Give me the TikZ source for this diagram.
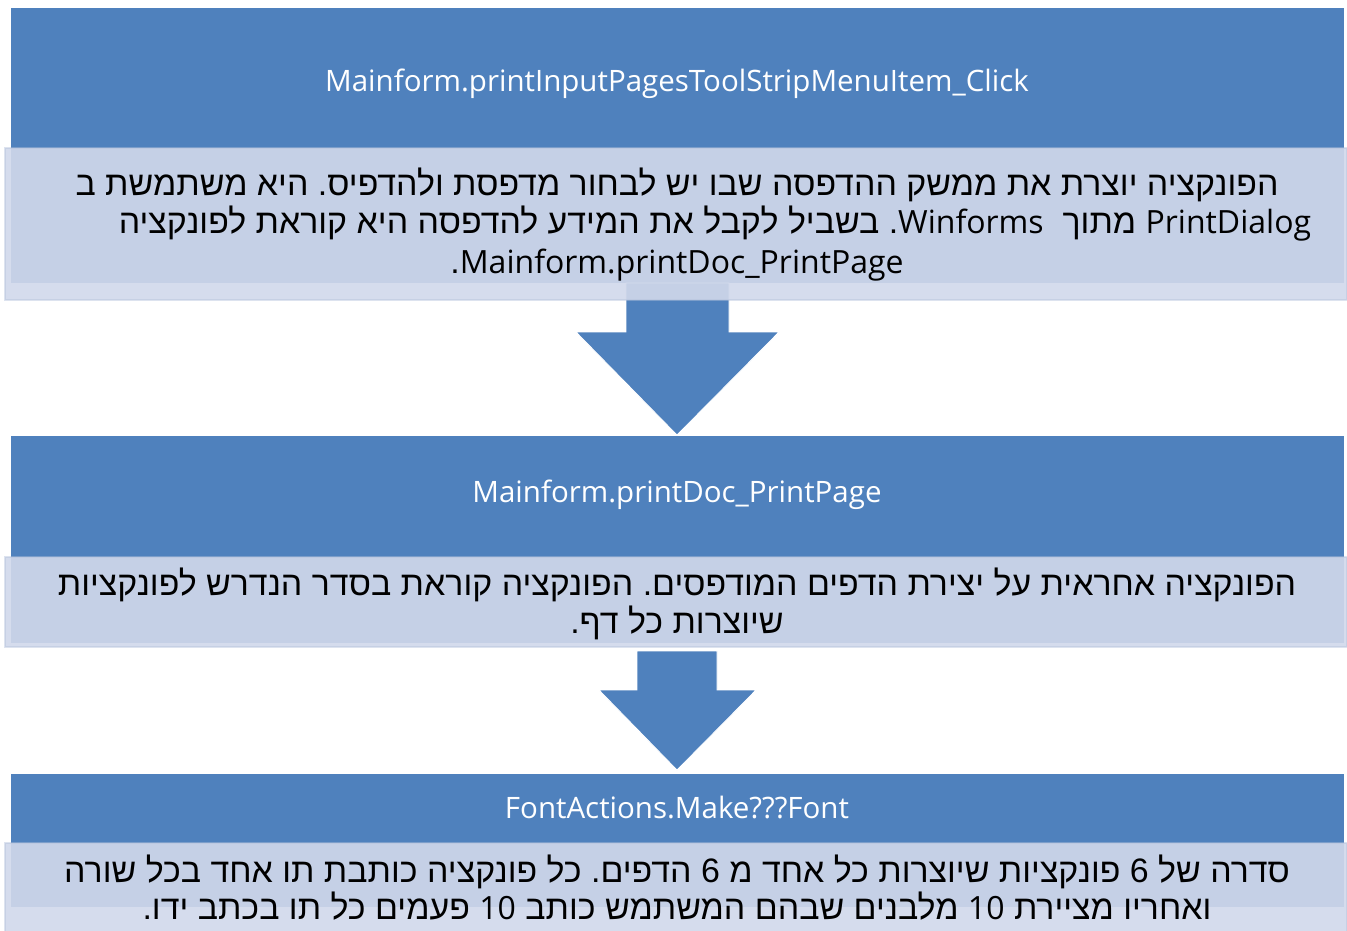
\documentclass[tikz,border=0pt]{standalone}
\usepackage{fontspec}
\setmainfont{Open Sans}
\newfontfamily\latinfont{Open Sans}
\newfontfamily\hebfont[Script=Hebrew]{Liberation Sans}
\TeXXeTstate=1
\frenchspacing
\definecolor{hdrblue}{HTML}{4F81BD}
\definecolor{panelfill}{HTML}{D1D8EB}
\definecolor{panelrim}{HTML}{B4C2DC}
\newcommand{\lat}[1]{\beginL{\latinfont\fontsize{32}{38}\selectfont #1}\endL{}}

\begin{document}
\begin{tikzpicture}[x=1pt,y=-1pt,
  headerbox/.style={fill=hdrblue, draw=none},
  panelbox/.style={fill=panelfill, fill opacity=0.91, draw=panelrim, draw opacity=0.45, line width=1.2pt},
  blockarrow/.style={fill=hdrblue, draw=white, line width=0.8pt},
  htext/.style={text=white, font=\fontsize{29.5}{34}\selectfont, anchor=base, inner sep=0pt},
  btext/.style={text=black, font=\hebfont\fontsize{33.9}{38}\selectfont, anchor=base, inner sep=0pt},
]
\useasboundingbox (0,0) rectangle (1347,930);

% blue header bars (each runs on beneath its text panel)
\path[headerbox] (11,8) rectangle (1344,283);
\path[headerbox] (11,436) rectangle (1344,643);
\path[headerbox] (11,774) rectangle (1344,907);

% block arrows between the stages
\path[blockarrow] (626,283) -- (729,283) -- (729,332) -- (779,332) -- (677,435)
  -- (576,332) -- (626,332) -- cycle;
\path[blockarrow] (637,651) -- (717,651) -- (717,690) -- (756,690) -- (677,770)
  -- (599,690) -- (637,690) -- cycle;

% translucent text panels
\path[panelbox] (5,148) rectangle (1347,300);
\path[panelbox] (5,557) rectangle (1347,647);
\path[panelbox] (5,843) rectangle (1347,936);

% header titles
\node[htext] (t1) at (677,91) {Mainform.printInputPagesToolStripMenuItem\_Click};
\node[htext] (t2) at (677,502) {Mainform.printDoc\_PrintPage};
\node[htext] (t3) at (677,818) {FontActions.Make???Font};

% stage 1 description
\node[btext] (d1a) at (677,195) {\beginR הפונקציה יוצרת את ממשק ההדפסה שבו יש לבחור מדפסת ולהדפיס. היא משתמשת ב\endR};
\node[btext] (d1b) at (715,233) {\beginR\lat{PrintDialog} מתוך \ \lat{Winforms}. בשביל לקבל את המידע להדפסה היא קוראת לפונקציה\endR};
\node[btext] (d1c) at (677,273) {\beginR\lat{Mainform.printDoc\_PrintPage}.\endR};

% stage 2 description
\node[btext] (d2a) at (677,595) {\beginR הפונקציה אחראית על יצירת הדפים המודפסים. הפונקציה קוראת בסדר הנדרש לפונקציות\endR};
\node[btext] (d2b) at (677,633) {\beginR שיוצרות כל דף.\endR};

% stage 3 description
\node[btext] (d3a) at (677,882) {\beginR סדרה של 6 פונקציות שיוצרות כל אחד מ 6 הדפים. כל פונקציה כותבת תו אחד בכל שורה\endR};
\node[btext] (d3b) at (677,919) {\beginR ואחריו מציירת \lat{10} מלבנים שבהם המשתמש כותב \lat{10} פעמים כל תו בכתב ידו.\endR};
\end{tikzpicture}
\end{document}
